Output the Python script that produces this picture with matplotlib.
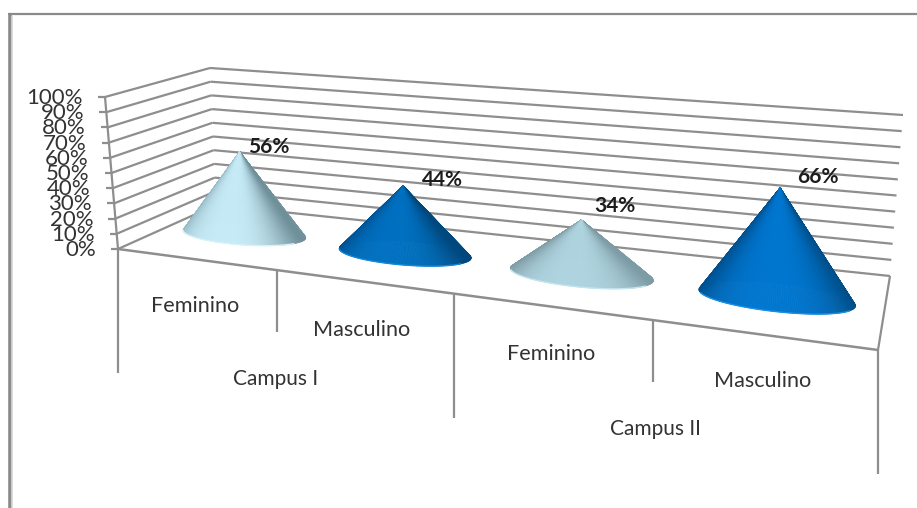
import matplotlib
matplotlib.use("Agg")
import matplotlib.pyplot as plt
from matplotlib.collections import PolyCollection
from matplotlib.colors import to_rgb
import numpy as np

plt.rcParams['font.family'] = ['Lato', 'DejaVu Sans']

groups = ['Campus I', 'Campus II']
categories = ['Feminino', 'Masculino', 'Feminino', 'Masculino']
values = [56, 44, 34, 66]
y_ticks = [0, 10, 20, 30, 40, 50, 60, 70, 80, 90, 100]

# left edge, centre, right edge, rim of each cone
cone_colors = [
    ('#8fb4bf', '#c6ebf6', '#6f8f99', '#d5f1f9'),
    ('#00508f', '#0070c0', '#00477c', '#1488d8'),
    ('#7f9ca5', '#aed4df', '#7d9ba4', '#c4e4ee'),
    ('#00508f', '#0076cf', '#004f8a', '#1a8ee0'),
]
label_offsets = [(29, -5), (39, -6), (33, -14), (38, -11)]

GRID = '#8e8e8e'
TEXT = '#333333'

# chart box corners in image pixels: (depth, side) -> value 0 and value 100
FL0, FL100 = np.array([118, 249.]), np.array([105, 97.])
BL0, BL100 = np.array([216, 205.]), np.array([210, 68.])
FR0, FR100 = np.array([878, 350.]), np.array([883, 171.])
BR0, BR100 = np.array([890, 276.]), np.array([903, 115.])


def warp(u, r):
    # perspective spacing of the categories along the floor
    s = u / 4
    return s / (s + r * (1 - s))


def project(u, d, v):
    tf = warp(u, 1.262)
    tb = warp(u, 1.17)
    w = v / 100
    front = (1 - tf) * (FL0 * (1 - w) + FL100 * w) + tf * (FR0 * (1 - w) + FR100 * w)
    back = (1 - tb) * (BL0 * (1 - w) + BL100 * w) + tb * (BR0 * (1 - w) + BR100 * w)
    return front * (1 - d) + back * d


def line(ax, a, b, lw=1.6, color=GRID, z=1):
    ax.plot([a[0], b[0]], [a[1], b[1]], color=color, lw=lw, zorder=z,
            solid_capstyle='butt')


fig, ax = plt.subplots(figsize=(9.17, 5.08), dpi=100)
fig.subplots_adjust(0, 0, 1, 1)
ax.set_xlim(0, 917)
ax.set_ylim(508, 0)
ax.axis('off')

# outer frame
line(ax, (9.5, 14), (9.5, 508), lw=2.6, color='#8a8a8a')
line(ax, (8, 14), (917, 14), lw=1.6, color='#8a8a8a')
line(ax, (11.5, 16), (11.5, 508), lw=1.2, color='#d4d4d4')

# walls and value axis
for v in y_ticks:
    a = project(0, 0, v)
    b = project(0, 1, v)
    c = project(4, 1, v)
    line(ax, a, b)
    line(ax, b, c)
    line(ax, a, a - np.array([7, 0]))
    ax.text(a[0] - 22, a[1] + 1, f'{v}%', ha='right', va='center',
            fontsize=16, color=TEXT, zorder=3)
line(ax, project(0, 0, 0), project(0, 0, 100))

# floor and category axis
line(ax, project(0, 0, 0), project(4, 0, 0), lw=1.8)
line(ax, project(4, 0, 0), project(4, 1, 0), lw=1.6)
for u in range(5):
    p = project(u, 0, 0)
    length = 124 if u % 2 == 0 else 62
    line(ax, p, p + np.array([0, length]))

for name, x, y in zip(categories, [195, 362, 551, 763], [306, 330, 354, 381]):
    ax.text(x, y, name, ha='center', va='center', fontsize=15.6, color=TEXT)
for name, x, y in zip(groups, [276, 655], [379, 429]):
    ax.text(x, y, name, ha='center', va='center', fontsize=15, color=TEXT)

# cones
theta = np.linspace(0, 2 * np.pi, 241)
for i, val in enumerate(values):
    left, mid, right, rim = [np.array(to_rgb(c)) for c in cone_colors[i]]
    uc, dc = i + 0.485, 0.54
    apex = project(uc, dc, val)
    base = np.array([project(uc + 0.38 * np.cos(t), dc + 0.2 * np.sin(t), 0)
                     for t in theta])
    polys, colors = [], []
    # far side first so the near side stays on top
    order = np.argsort(-np.sin(theta[:-1]))
    for k in order:
        polys.append([apex, base[k], base[k + 1]])
        c = np.cos(theta[k])
        colors.append(mid + (left - mid) * abs(c) ** 3 if c < 0
                      else mid + (right - mid) * abs(c) ** 3)
    ax.add_collection(PolyCollection(polys, facecolors=colors, edgecolors=colors,
                                     linewidths=0.5, zorder=4))
    near = (theta > np.pi * 1.1) & (theta < np.pi * 1.9)
    ax.plot(base[near, 0], base[near, 1], color=rim, lw=1.0, zorder=5)
    ax.text(apex[0] + label_offsets[i][0], apex[1] + label_offsets[i][1],
            f'{val}%', ha='center', va='center', fontsize=15,
            fontweight='bold', color='#1c1c1c', zorder=6)

fig.savefig('out.png', dpi=100)
